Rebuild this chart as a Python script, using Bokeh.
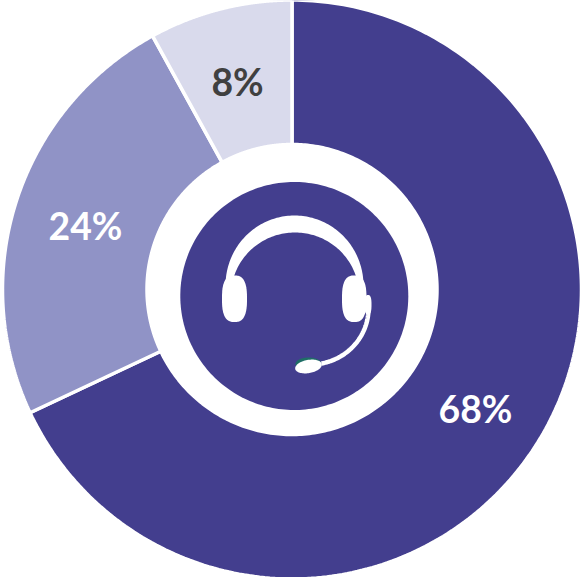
import numpy as np
from bokeh.plotting import figure
from bokeh.embed import file_html
from bokeh.resources import INLINE
from bokeh.core.properties import value

labels = ["68%", "24%", "8%"]
shares = [68, 24, 8]
colors = ["#433E8E", "#9093C6", "#D9DAEC"]
label_colors = ["#FFFFFF", "#FFFFFF", "#404040"]
label_pos = [(475, 408), (85, 225), (237, 81)]

W, H = 582, 577
p = figure(width=W, height=H, x_range=(0, W), y_range=(H, 0), output_backend="svg",
           toolbar_location=None, min_border=0, outline_line_color=None,
           background_fill_color="white", border_fill_color="white")
p.axis.visible = False
p.grid.visible = False

cx, cy, R, r = 291.5, 289.0, 289.5, 145.0
start = 0.0
for s, c in zip(shares, colors):
    end = start + s / 100 * 2 * np.pi
    t = np.linspace(start, end, 240)
    xs = np.r_[cx + R * np.sin(t), cx + r * np.sin(t[::-1])]
    ys = np.r_[cy - R * np.cos(t), cy - r * np.cos(t[::-1])]
    p.patch(xs, ys, fill_color=c, line_color="white", line_width=3.5)
    start = end
for lab, lc, (tx, ty) in zip(labels, label_colors, label_pos):
    p.text([tx], [ty], text=[lab], text_color=lc, text_font=value("Lato"), text_font_size="28pt",
           text_font_style="bold", text_align="center", text_baseline="middle")

# inner disc
t = np.linspace(0, 2 * np.pi, 240)
p.patch(293.8 + 114 * np.cos(t), 295.5 + 114 * np.sin(t), fill_color="#433E8E", line_color=None)

# headband: crescent between two arcs
a = np.linspace(np.pi * 0.98, 2.02 * np.pi, 120)
ox = 294 + 69 * np.cos(a)
oy = 285 + 70 * np.sin(a)
b = a[::-1]
ix = 294.5 + 64 * np.cos(b)
iy = 295 + 63 * np.sin(b)
p.patch(np.r_[ox, ix], np.r_[oy, iy], fill_color="white", line_color=None)


def cup(x0, x1, y0, y1, n=2.7):
    """Rounded ear cup outline (superellipse)."""
    u = np.linspace(0, 2 * np.pi, 120)
    xc, yc = (x0 + x1) / 2, (y0 + y1) / 2
    a_, b_ = (x1 - x0) / 2, (y1 - y0) / 2
    xs_ = np.sign(np.cos(u)) * np.abs(np.cos(u)) ** (2 / n)
    ys_ = np.sign(np.sin(u)) * np.abs(np.sin(u)) ** (2 / n)
    return xc + a_ * xs_, yc + b_ * ys_


lx, ly = cup(221.5, 246.5, 275, 321.5)
p.patch(lx, ly, fill_color="white", line_color=None)
rx, ry = cup(341.5, 366, 275, 321.5)
p.patch(rx, ry, fill_color="white", line_color=None)

# knob on right cup
kx, ky = cup(364, 371, 294.5, 314)
p.patch(kx, ky, fill_color="white", line_color=None)

# mic (green edge behind, white capsule on top) and boom
u = np.linspace(0, 2 * np.pi, 80)
p.patch(308 + 13 * np.cos(u), 363.5 + 6.5 * np.sin(u), fill_color="#1F6E66", line_color=None)
ang = -0.18
ex, ey = 13.5 * np.cos(u), 6.6 * np.sin(u)
p.patch(308 + ex * np.cos(ang) - ey * np.sin(ang), 366 + ex * np.sin(ang) + ey * np.cos(ang),
        fill_color="white", line_color=None)

v = np.linspace(0.02, 1.38, 60)
bx = 310 + 58 * np.cos(v)
by = 308 + 56 * np.sin(v)
p.line(bx, by, line_color="white", line_width=4.5)

open("out.html", "w").write(file_html(p, INLINE))
